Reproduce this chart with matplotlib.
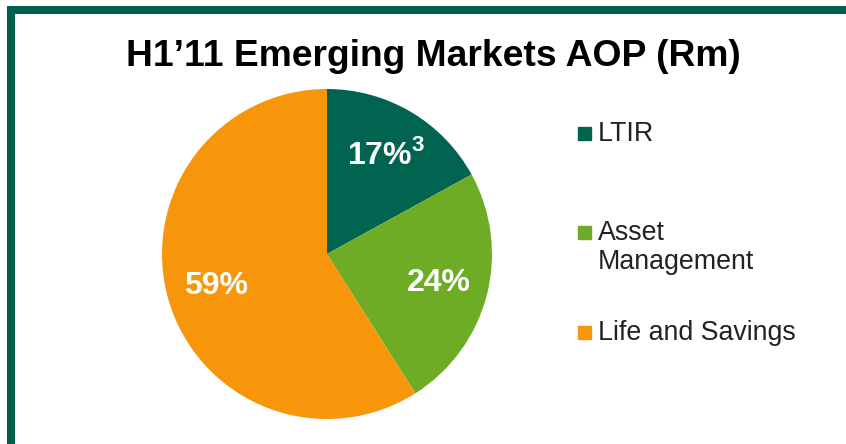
import matplotlib.pyplot as plt
from matplotlib.patches import Rectangle
from matplotlib.lines import Line2D
import numpy as np

plt.rcParams['font.family'] = ['Liberation Sans', 'DejaVu Sans']
plt.rcParams['mathtext.fontset'] = 'custom'
plt.rcParams['mathtext.rm'] = 'Liberation Sans:bold'
plt.rcParams['mathtext.bf'] = 'Liberation Sans:bold'

# H1'11 emerging markets AOP split (%)
segments = ["LTIR", "Asset\nManagement", "Life and Savings"]
shares = [17, 24, 59]
pct_labels = ["17%$^{3}$", "24%", "59%"]
colors = ["#006450", "#6FAC25", "#F7960B"]
border = "#00614F"

W, H = 846, 444
fig = plt.figure(figsize=(W / 100, H / 100), dpi=100)

# frame lines (top and left)
fig.add_artist(Line2D([11 / W, 1], [1 - 10 / H, 1 - 10 / H], color=border, lw=5.8,
                      solid_capstyle='butt'))
fig.add_artist(Line2D([11 / W, 11 / W], [0, 1 - 6 / H], color=border, lw=5.8,
                      solid_capstyle='butt'))

fig.text(433 / W, 1 - 57 / H, "H1\u201911 Emerging Markets AOP (Rm)", ha='center', va='center',
         fontsize=26.8, fontweight='bold', color='black')

cx, cy, r = 327, 254, 165
ax = fig.add_axes([(cx - r) / W, (H - cy - r) / H, 2 * r / W, 2 * r / H])
wedges, _ = ax.pie(shares, colors=colors, startangle=90, counterclock=False, radius=1,
                   wedgeprops=dict(linewidth=0))
ax.set_xlim(-1, 1)
ax.set_ylim(-1, 1)
ax.set_aspect('equal')
ax.axis('off')

cum = np.cumsum([0] + shares)
for i, lab in enumerate(pct_labels):
    mid = np.deg2rad(90 - (cum[i] + shares[i] / 2) / 100 * 360)
    d = 0.7
    ax.text(d * np.cos(mid), d * np.sin(mid), lab, ha='center', va='center',
            fontsize=23, fontweight='bold', color='white')

# legend
leg_y = [133, 232, 332]
for name, col, y in zip(segments, colors, leg_y):
    fig.add_artist(Rectangle((578 / W, 1 - (y + 7) / H), 13 / W, 13 / H,
                             color=col, transform=fig.transFigure))
    fig.text(598 / W, 1 - (y - 12) / H, name, ha='left', va='top', fontsize=19.3,
             color='#222222', linespacing=1.15)

fig.savefig("out.png", dpi=100)
